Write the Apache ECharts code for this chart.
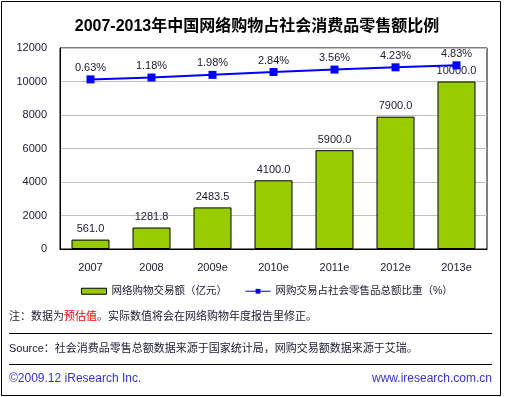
<!DOCTYPE html>
<html>
<head>
<meta charset="utf-8">
<script src="https://cdn.jsdelivr.net/npm/echarts@6/dist/echarts.min.js"></script>
<style>
  html, body { margin: 0; padding: 0; background: #fff; }
  #chart { width: 506px; height: 397px; }
</style>
</head>
<body>
<div id="chart"></div>
<script>
// data
var years = ["2007", "2008", "2009e", "2010e", "2011e", "2012e", "2013e"];
var tradeValue = [561.0, 1281.8, 2483.5, 4100.0, 5900.0, 7900.0, 10000.0];
var shareValue = [0.63, 1.18, 1.98, 2.84, 3.56, 4.23, 4.83];
var leftTicks = [0, 2000, 4000, 6000, 8000, 10000, 12000];

var FONT = "Liberation Sans, Noto Sans CJK SC, sans-serif";
var TXT = "#1a1a33";

var myChart = echarts.init(document.getElementById("chart"), null, { renderer: "canvas" });

var option = {
    backgroundColor: "#fff",
    animation: false,
    textStyle: { fontFamily: FONT },
    title: {
        text: "2007-2013年中国网络购物占社会消费品零售额比例",
        left: 252,
        textAlign: "center",
        top: 14,
        textStyle: { fontSize: 16, fontWeight: "bold", color: "#000", fontFamily: FONT }
    },
    grid: {
        left: 60, right: 19, top: 48, bottom: 148,
        show: true, borderColor: "#000", borderWidth: 1
    },
    legend: {
        left: 76, top: 281,
        itemGap: 18,
        itemWidth: 25, itemHeight: 6,
        textStyle: { fontSize: 10.5, color: TXT, fontFamily: FONT },
        data: [
            { name: "网络购物交易额（亿元）", icon: "rect",
              itemStyle: { color: "#99cc00", borderColor: "#000", borderWidth: 1 } },
            { name: "网购交易占社会零售品总额比重（%）",
              lineStyle: { width: 1 } }
        ]
    },
    xAxis: {
        type: "category",
        data: years,
        axisLine: { lineStyle: { color: "#000" } },
        axisTick: { show: false },
        axisLabel: { color: TXT, fontSize: 11, margin: 13 }
    },
    yAxis: [{
        type: "value",
        min: leftTicks[0], max: leftTicks[leftTicks.length - 1], interval: 2000,
        axisLine: { show: true, lineStyle: { color: "#000" } },
        axisTick: { show: false },
        axisLabel: { color: TXT, fontSize: 11, margin: 13, formatter: function (v) { return String(v); } },
        splitLine: { lineStyle: { color: "#c0c0c0" } }
    }, {
        type: "value",
        min: -50, max: 10,
        show: false,
        splitLine: { show: false }
    }],
    series: [{
        name: "网络购物交易额（亿元）",
        type: "bar",
        data: tradeValue,
        barWidth: 38,
        itemStyle: { color: "#99cc00", borderColor: "#000", borderWidth: 1 },
        label: {
            show: true, position: "top", distance: 5,
            color: TXT, fontSize: 11,
            formatter: function (p) { return p.value.toFixed(1); }
        }
    }, {
        name: "网购交易占社会零售品总额比重（%）",
        type: "line",
        yAxisIndex: 1,
        data: shareValue,
        symbol: "rect",
        symbolSize: 8,
        lineStyle: { color: "#0000ff", width: 2 },
        itemStyle: { color: "#0000ff" },
        label: {
            show: true, position: "top", distance: 2,
            color: TXT, fontSize: 11,
            formatter: function (p) { return p.value.toFixed(2) + "%"; }
        }
    }],
    graphic: [
        {
            type: "rect", silent: true,
            shape: { x: 1.5, y: 1.5, width: 499, height: 394 },
            style: { fill: null, stroke: "#000", lineWidth: 1 }
        },
        {
            type: "text", left: 9, top: 311,
            style: {
                text: "注：数据为{r|预估值}。实际数值将会在网络购物年度报告里修正。",
                font: "11px " + FONT, fill: TXT,
                rich: { r: { fill: "#ff0000", font: "11px " + FONT } }
            }
        },
        {
            type: "line", silent: true,
            shape: { x1: 9, y1: 333.5, x2: 492, y2: 333.5 },
            style: { stroke: "#000", lineWidth: 1 }
        },
        {
            type: "text", left: 9, top: 343,
            style: {
                text: "Source：社会消费品零售总额数据来源于国家统计局，网购交易额数据来源于艾瑞。",
                font: "11px " + FONT, fill: TXT
            }
        },
        {
            type: "line", silent: true,
            shape: { x1: 9, y1: 364.5, x2: 492, y2: 364.5 },
            style: { stroke: "#000", lineWidth: 1 }
        },
        {
            type: "text", left: 9, top: 373,
            style: { text: "©2009.12 iResearch Inc.", font: "12px " + FONT, fill: "#3333cc" }
        },
        {
            type: "text", right: 14, top: 373,
            style: { text: "www.iresearch.com.cn", font: "12px " + FONT, fill: "#3333cc" }
        }
    ]
};

myChart.setOption(option);
</script>
</body>
</html>
